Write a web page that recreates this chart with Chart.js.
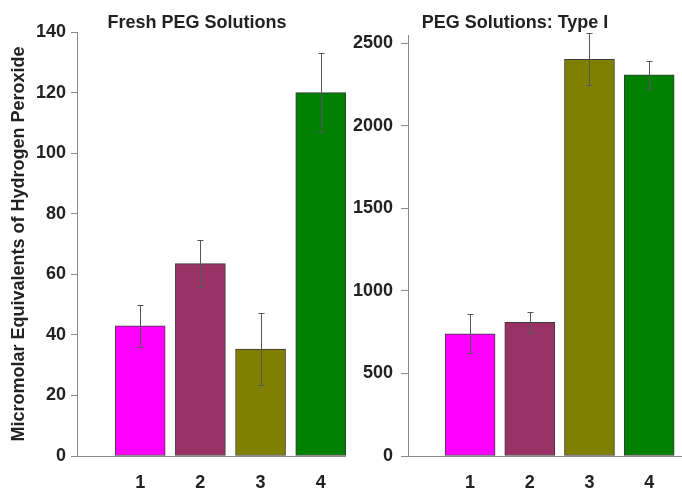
<!DOCTYPE html>
<html>
<head>
<meta charset="utf-8">
<script src="https://cdn.jsdelivr.net/npm/chart.js@4.4.1/dist/chart.umd.min.js"></script>
<style>
    body { margin: 0; background: #fff; }
    .panel { position: absolute; top: 0; height: 490px; }
    #leftPanel { left: 0; width: 346px; }
    #rightPanel { left: 346px; width: 336px; }
</style>
</head>
<body>
<div class="panel" id="leftPanel"><canvas id="freshChart"></canvas></div>
<div class="panel" id="rightPanel"><canvas id="typeOneChart"></canvas></div>
<script>
const sampleLabels = [1, 2, 3, 4];
const barColors = ['#ff00ff', '#993366', '#808000', '#008000'];

const freshValues = [43, 63.5, 35.3, 120];
const freshErrors = [7, 7.7, 12, 13];
const freshTicks = [0, 20, 40, 60, 80, 100, 120, 140];

const typeOneValues = [740, 810, 2403, 2308];
const typeOneErrors = [118, 62, 158, 87];
const typeOneTicks = [0, 500, 1000, 1500, 2000, 2500];

const fontFamily = '"Liberation Sans", Arial, sans-serif';
const textColor = '#222';
const axisColor = '#8a8a8a';

// error bars drawn on top of the bars, using the chart's y scale
const errorBarPlugin = {
    id: 'errorBars',
    afterDatasetsDraw(chart, args, opts) {
        const ctx = chart.ctx;
        const yScale = chart.scales.y;
        const points = chart.data.datasets[0].data;
        ctx.save();
        ctx.strokeStyle = opts.color;
        ctx.lineWidth = 1;
        chart.getDatasetMeta(0).data.forEach((bar, i) => {
            const value = points[i].y;
            const err = opts.errors[i];
            const top = Math.round(yScale.getPixelForValue(value + err)) + 0.5;
            const bottom = Math.round(yScale.getPixelForValue(value - err)) + 0.5;
            const x = Math.round(bar.x) + 0.5;
            ctx.beginPath();
            ctx.moveTo(x, top);
            ctx.lineTo(x, bottom);
            ctx.moveTo(x - 3, top);
            ctx.lineTo(x + 3, top);
            ctx.moveTo(x - 3, bottom);
            ctx.lineTo(x + 3, bottom);
            ctx.stroke();
        });
        ctx.restore();
    }
};

// panel title, placed freely (the built-in title only centres on the canvas)
const panelTitlePlugin = {
    id: 'panelTitle',
    afterDraw(chart, args, opts) {
        const ctx = chart.ctx;
        ctx.save();
        ctx.font = 'bold 18px ' + fontFamily;
        ctx.fillStyle = textColor;
        ctx.textAlign = 'center';
        ctx.textBaseline = 'middle';
        ctx.fillText(opts.text, opts.x, opts.y);
        ctx.restore();
    }
};

function buildConfig(values, errors, yTicks, settings) {
    return {
        type: 'bar',
        data: {
            datasets: [{
                data: sampleLabels.map((label, i) => ({ x: label, y: values[i] })),
                backgroundColor: barColors,
                borderColor: '#3a3a3a',
                borderWidth: 1,
                borderSkipped: false,
                barThickness: 50
            }]
        },
        options: {
            responsive: true,
            maintainAspectRatio: false,
            animation: false,
            layout: { padding: { top: settings.top, right: 0, left: 0, bottom: 0 } },
            plugins: {
                legend: { display: false },
                tooltip: { enabled: false },
                errorBars: { errors: errors, color: '#555' },
                panelTitle: { text: settings.title, x: settings.titleX, y: 23 }
            },
            scales: {
                x: {
                    type: 'linear',
                    offset: false,
                    min: settings.xMin,
                    max: settings.xMax,
                    afterBuildTicks: axis => { axis.ticks = sampleLabels.map(v => ({ value: v })); },
                    afterFit: scale => { scale.height = 34; },
                    grid: { display: false, drawTicks: false },
                    border: { display: true, color: axisColor, width: 1 },
                    ticks: {
                        padding: 16,
                        color: textColor,
                        font: { family: fontFamily, size: 18, weight: 'bold' },
                        callback: value => String(value)
                    }
                },
                y: {
                    min: 0,
                    max: settings.yMax,
                    afterBuildTicks: axis => { axis.ticks = yTicks.map(v => ({ value: v })); },
                    afterFit: scale => { scale.width = settings.yWidth; },
                    grid: {
                        drawOnChartArea: false,
                        drawTicks: true,
                        tickLength: settings.tickLength,
                        tickColor: axisColor
                    },
                    border: { display: true, color: axisColor, width: 1 },
                    ticks: {
                        padding: settings.tickPadding,
                        color: textColor,
                        font: { family: fontFamily, size: 18, weight: 'bold' },
                        callback: value => String(value)
                    },
                    title: {
                        display: !!settings.yTitle,
                        text: settings.yTitle || '',
                        color: textColor,
                        padding: { top: 8, bottom: 0 },
                        font: { family: fontFamily, size: 18, weight: 'bold' }
                    }
                }
            }
        },
        plugins: [errorBarPlugin, panelTitlePlugin]
    };
}

new Chart(document.getElementById('freshChart'), buildConfig(freshValues, freshErrors, freshTicks, {
    title: 'Fresh PEG Solutions',
    titleX: 197,
    top: 32,
    xMin: -0.05,
    xMax: 4.42,
    yMax: 140,
    yWidth: 77,
    tickLength: 6,
    tickPadding: 5,
    yTitle: 'Micromolar Equivalents of Hydrogen Peroxide'
}));

new Chart(document.getElementById('typeOneChart'), buildConfig(typeOneValues, typeOneErrors, typeOneTicks, {
    title: 'PEG Solutions: Type I',
    titleX: 169,
    top: 35,
    xMin: -0.04,
    xMax: 4.55,
    yMax: 2550,
    yWidth: 62,
    tickLength: 7,
    tickPadding: 8
}));
</script>
</body>
</html>
